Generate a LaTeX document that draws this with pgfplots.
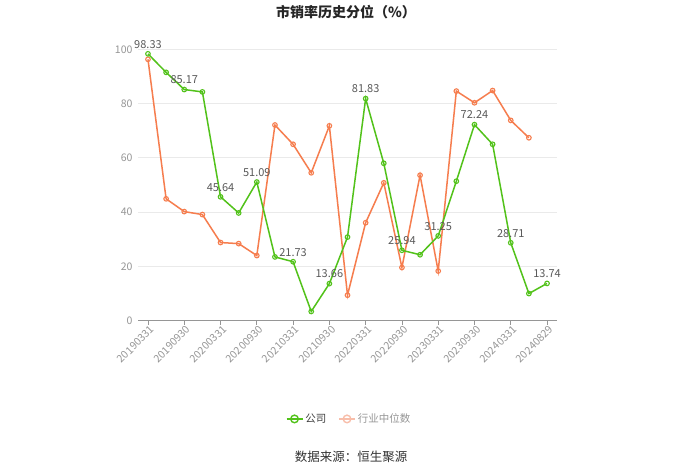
\documentclass[border=0pt]{standalone}
\usepackage{fontspec}
\setmainfont{Noto Sans CJK SC}
\usepackage{pgfplots}
\pgfplotsset{compat=1.18}
\definecolor{cgreen}{RGB}{82,194,26}
\definecolor{corange}{RGB}{246,125,78}
\definecolor{corangel}{RGB}{248,190,170}
\definecolor{tickgray}{RGB}{150,150,150}
\definecolor{gridgray}{RGB}{234,234,234}
\begin{document}
\begin{tikzpicture}[x=1pt,y=1pt]
\path[use as bounding box, fill=white] (0,0) rectangle (700,473);
\node[font=\bfseries\fontsize{14}{16}\selectfont, text=black!85] at (346,461) {市销率历史分位（\%）};
\node[font=\fontsize{12.5}{14}\selectfont, text=black!80] at (351,16) {数据来源：恒生聚源};
\begin{axis}[
  at={(138pt,152.3pt)}, anchor=south west,
  scale only axis, width=419pt, height=271.4pt,
  xmin=-0.55, xmax=22.55, ymin=0, ymax=100,
  axis x line*=bottom, axis y line*=left,
  x axis line style={-, tickgray, line width=0.8pt},
  y axis line style={draw=none},
  xtick={0,2,...,22},
  xticklabels={20190331,20190930,20200331,20200930,20210331,20210930,20220331,20220930,20230331,20230930,20240331,20240829},
  ytick={0,20,...,100},
  ymajorgrids, grid style={gridgray, line width=0.8pt},
  xtick align=outside, major tick length=4pt,
  x tick style={tickgray, line width=0.8pt},
  y tick style={draw=none},
  tick label style={font=\fontsize{10.5}{12}\selectfont, text=tickgray},
  x tick label style={rotate=45, anchor=north east, inner sep=1pt, xshift=2pt},
  y tick label style={xshift=-2pt},
  /pgf/number format/assume math mode=true,
  clip=false,
  legend style={at={(0.5036,-0.362)}, anchor=center, draw=none, fill=none,
    font=\fontsize{10.5}{12}\selectfont, text=tickgray,
    legend columns=2, /tikz/every even column/.append style={column sep=10pt}},
  legend cell align=left,
  legend image code/.code={
    \draw[#1, mark=none] (0pt,0pt) -- (16pt,0pt);
    \draw[#1, only marks] plot coordinates {(8pt,0pt)};
  },
]
\addplot[corange, line width=1.5pt, mark=o, mark size=2.3pt, mark options={fill=white, line width=1.1pt}, forget plot] coordinates {
(0,96.3) (1,44.9) (2,40.2) (3,39.1) (4,28.8) (5,28.4) (6,24.0) (7,72.1) (8,65.0) (9,54.5) (10,71.8) (11,9.4) (12,36.1) (13,50.8) (14,19.6) (15,53.6) (16,18.3) (17,84.6) (18,80.3) (19,84.8) (20,73.8) (21,67.4)
};
\addplot[cgreen, line width=1.5pt, mark=o, mark size=2.3pt, mark options={fill=white, line width=1.1pt}, forget plot] coordinates {
(0,98.33) (1,91.5) (2,85.17) (3,84.3) (4,45.64) (5,39.7) (6,51.09) (7,23.5) (8,21.73) (9,3.4) (10,13.66) (11,30.8) (12,81.83) (13,58.0) (14,25.94) (15,24.3) (16,31.25) (17,51.4) (18,72.24) (19,65.0) (20,28.71) (21,10.0) (22,13.74)
};
\addplot[draw=none, mark=none, forget plot, point meta=y,
  nodes near coords, nodes near coords style={font=\fontsize{11}{12}\selectfont, text=black!65, anchor=south, yshift=2pt,
  /pgf/number format/.cd, fixed, fixed zerofill, precision=2, assume math mode=true}] coordinates {
(0,98.33) (2,85.17) (4,45.64) (6,51.09) (8,21.73) (10,13.66) (12,81.83) (14,25.94) (16,31.25) (18,72.24) (20,28.71) (22,13.74)
};
\addlegendimage{cgreen, line width=1.5pt, mark=o, mark size=3.8pt, mark options={fill=white, line width=1.4pt}}
\addlegendentry{\textcolor{black!75}{公司}}
\addlegendimage{corangel, line width=1.5pt, mark=o, mark size=3.8pt, mark options={fill=white, line width=1.4pt}}
\addlegendentry{行业中位数}
\end{axis}
\end{tikzpicture}
\end{document}
